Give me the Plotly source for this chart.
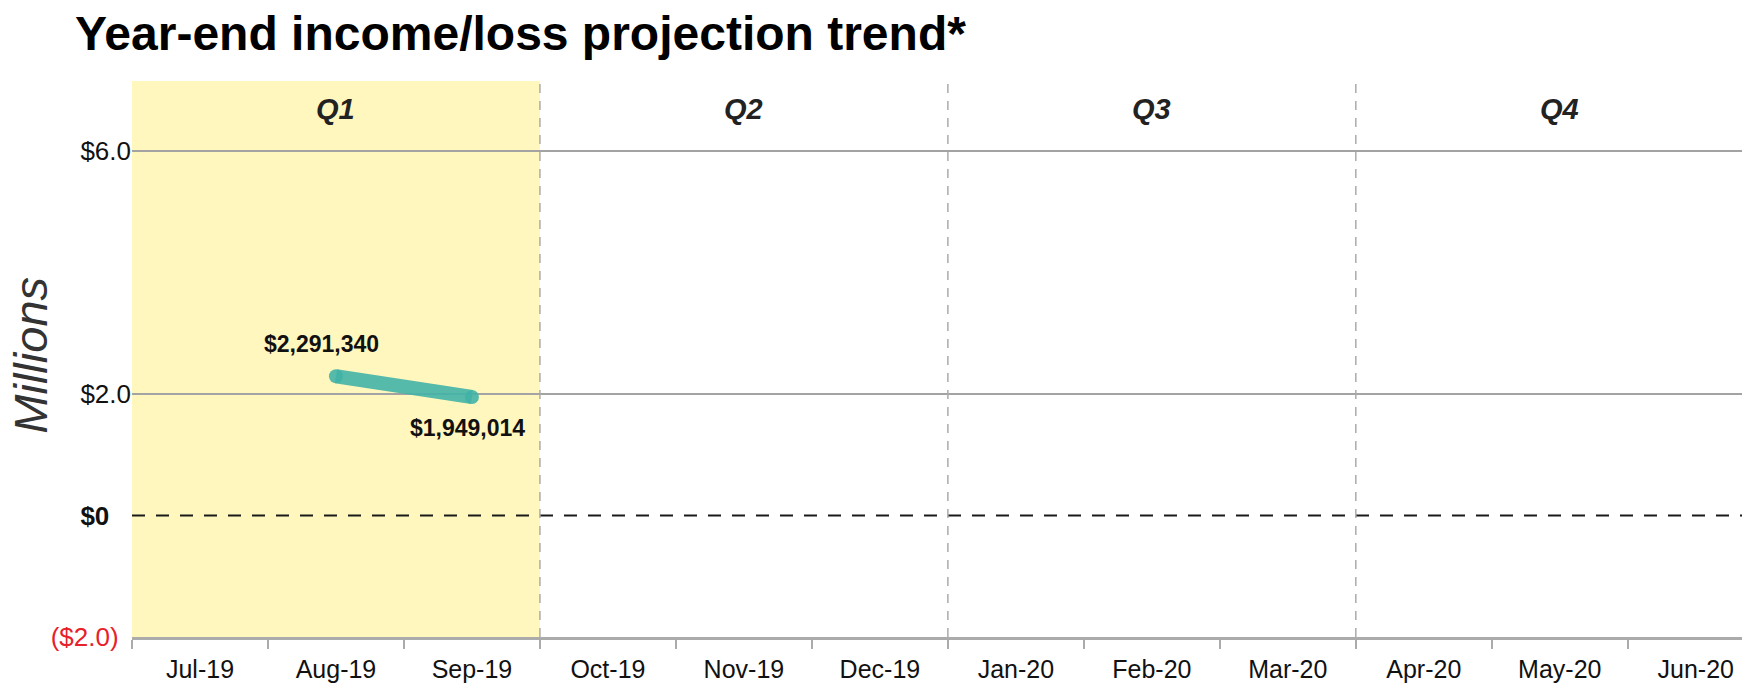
import plotly.graph_objects as go

# ---- data -------------------------------------------------------------
months = ["Jul-19", "Aug-19", "Sep-19", "Oct-19", "Nov-19", "Dec-19",
          "Jan-20", "Feb-20", "Mar-20", "Apr-20", "May-20", "Jun-20"]
projection = [None, 2291340, 1949014, None, None, None,
              None, None, None, None, None, None]
quarters = ["Q1", "Q2", "Q3", "Q4"]
y_ticks = [-2, 0, 2, 6]
y_tick_text = ["<span style='color:#E8202A'>($2.0)</span>\u00a0\u2009",
               "<b>$0</b>\u00a0\u00a0\u00a0", "$2.0", "$6.0"]

FONT = "Liberation Sans, Arial, sans-serif"
X_MAX = 11.84
Y_RANGE = [-2, 7.15]

# month i sits in the slot [i, i+1]; points go in the middle of the slot
xs = [i + 0.5 for i in range(len(months))]
pts = [(x, v / 1e6, v) for x, v in zip(xs, projection) if v is not None]

fig = go.Figure()

fig.add_trace(go.Scatter(
    x=[p[0] for p in pts], y=[p[1] for p in pts],
    mode="lines+markers",
    line=dict(color="rgba(66,178,166,0.9)", width=14),
    marker=dict(color="rgba(66,178,166,0.9)", size=14, line=dict(width=0)),
    hoverinfo="skip", showlegend=False,
))

shapes = []
# Q1 highlight band
shapes.append(dict(type="rect", xref="x", yref="paper", x0=0, x1=3, y0=0, y1=1,
                   fillcolor="#FFF7BE", line=dict(width=0), layer="below"))
# horizontal gridlines
for g in (2, 6):
    shapes.append(dict(type="line", xref="paper", yref="y", x0=0, x1=1, y0=g, y1=g,
                       line=dict(color="#A3A3A3", width=2), layer="below"))
# zero line
shapes.append(dict(type="line", xref="paper", yref="y", x0=0, x1=1, y0=0, y1=0,
                   line=dict(color="#1A1A1A", width=2, dash="13px,11px"), layer="below"))
# quarter separators
for qx in (3, 6, 9):
    shapes.append(dict(type="line", xref="x", yref="paper", x0=qx, x1=qx, y0=0, y1=1,
                       line=dict(color="#ABABAB", width=1.5, dash="9px,8px"), layer="below"))

annotations = []
for i, q in enumerate(quarters):
    annotations.append(dict(x=3 * i + 1.5, y=0.949, xref="x", yref="paper",
                            xanchor="center", yanchor="middle", text=f"<b><i>{q}</i></b>",
                            showarrow=False, font=dict(family=FONT, size=29, color="#222222")))

# value labels: first point above, last point below
for k, (x, y, v) in enumerate(pts):
    above = k == 0
    annotations.append(dict(x=x, y=y, xref="x", yref="y", text=f"<b>${v:,.0f}</b>",
                            showarrow=False, xshift=-14 if above else -4,
                            yshift=32 if above else -31,
                            font=dict(family=FONT, size=23, color="#111111")))

annotations.append(dict(x=0, y=0.506, xref="paper", yref="paper", xshift=-101,
                        xanchor="center", yanchor="middle",
                        text="<i>Millions</i>", textangle=-90, showarrow=False,
                        font=dict(family=FONT, size=47, color="#333333")))

fig.update_layout(
    width=1742, height=684,
    margin=dict(l=132, r=0, t=81, b=47),
    paper_bgcolor="white", plot_bgcolor="white",
    title=dict(text="<b>Year-end income/loss projection trend*</b>",
               x=75 / 1742, xanchor="left", xref="container",
               y=1 - 33 / 684, yanchor="middle", yref="container",
               font=dict(family=FONT, size=48, color="#000000")),
    shapes=shapes, annotations=annotations,
    xaxis=dict(range=[0, X_MAX], tickvals=xs, ticktext=months, ticks="",
               showgrid=False, zeroline=False, showline=True, automargin=False,
               linecolor="#ABABAB", linewidth=2.5, ticklabelstandoff=8,
               tickfont=dict(family=FONT, size=25, color="#111111"),
               minor=dict(tickmode="array", tickvals=list(range(13)), ticks="outside",
                          ticklen=9, tickwidth=2, tickcolor="#ABABAB", showgrid=False)),
    yaxis=dict(range=Y_RANGE, tickvals=y_ticks, ticktext=y_tick_text, ticks="",
               showgrid=False, zeroline=False, showline=False, automargin=False,
               tickfont=dict(family=FONT, size=26, color="#111111")),
)

fig.write_html("out.html")
